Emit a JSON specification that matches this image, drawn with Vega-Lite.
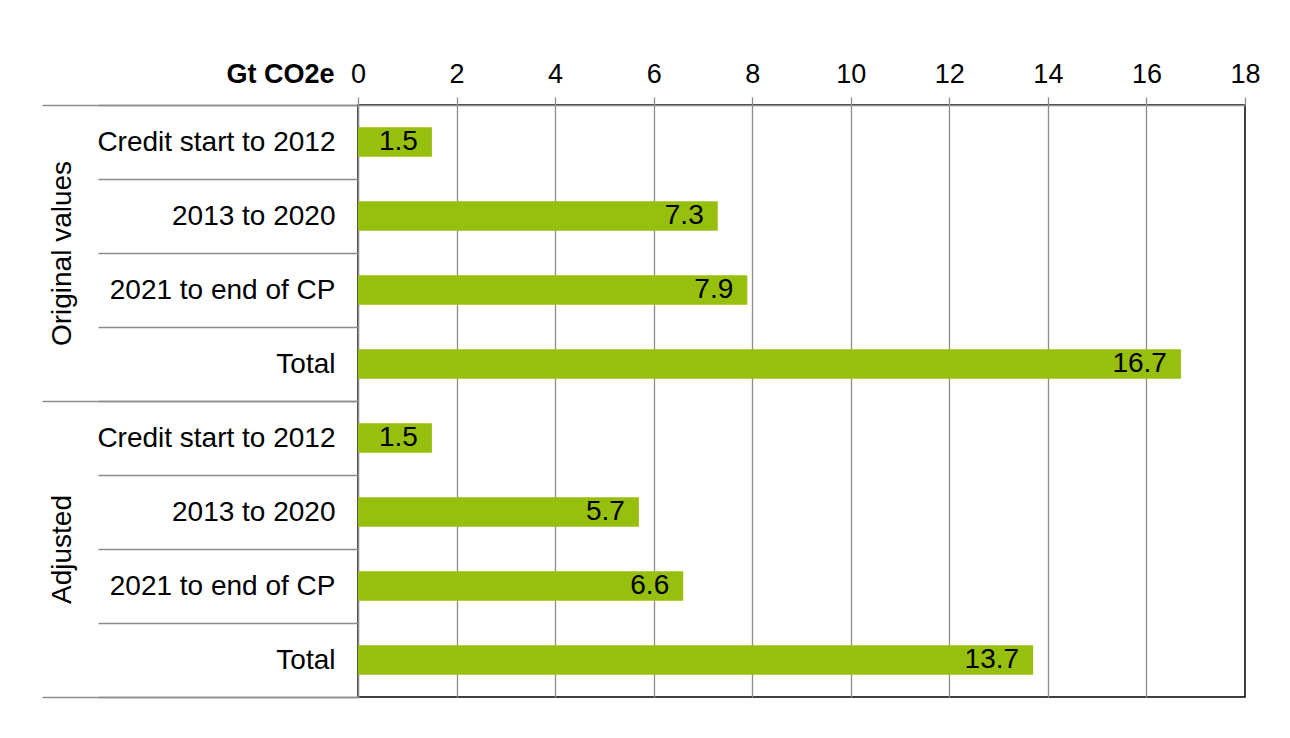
{
  "$schema": "https://vega.github.io/schema/vega-lite/v6.json",
  "width": 887,
  "height": 592,
  "autosize": {"type": "none"},
  "padding": {"left": 358, "top": 105, "right": 45, "bottom": 41},
  "background": "white",
  "config": {
    "font": "Liberation Sans",
    "view": {"stroke": "#000000", "strokeWidth": 1.5}
  },
  "data": {
    "values": [
      {"group": "Original values", "key": "Original values|Credit start to 2012", "value": 1.5},
      {"group": "Original values", "key": "Original values|2013 to 2020", "value": 7.3},
      {"group": "Original values", "key": "Original values|2021 to end of CP", "value": 7.9},
      {"group": "Original values", "key": "Original values|Total", "value": 16.7},
      {"group": "Adjusted", "key": "Adjusted|Credit start to 2012", "value": 1.5},
      {"group": "Adjusted", "key": "Adjusted|2013 to 2020", "value": 5.7},
      {"group": "Adjusted", "key": "Adjusted|2021 to end of CP", "value": 6.6},
      {"group": "Adjusted", "key": "Adjusted|Total", "value": 13.7}
    ]
  },
  "layer": [
    {
      "layer": [
        {
          "mark": {"type": "bar", "color": "#97BF0D", "height": {"band": 0.4}},
          "encoding": {
            "y": {
              "field": "key", "type": "nominal", "sort": null,
              "scale": {"paddingInner": 0, "paddingOuter": 0},
              "axis": {
                "title": null, "orient": "left",
                "labelExpr": "split(datum.value, '|')[1]",
                "labelFontSize": 28, "labelColor": "#000000",
                "labelAlign": "right", "labelBaseline": "middle",
                "labelPadding": -237, "labelLimit": 500,
                "tickBand": "extent", "tickSize": 260,
                "tickColor": "#8c8c8c", "tickWidth": 1.3,
                "domainColor": "#8c8c8c", "domainWidth": 1.3,
                "grid": false
              }
            },
            "x": {
              "field": "value", "type": "quantitative",
              "scale": {"domain": [0, 18], "nice": false},
              "axis": {
                "orient": "top",
                "values": [0, 2, 4, 6, 8, 10, 12, 14, 16, 18],
                "title": "Gt CO2e",
                "titleFontWeight": "bold", "titleFontSize": 27, "titleColor": "#000000",
                "titleAlign": "right", "titleBaseline": "alphabetic", "titleAngle": 0,
                "titleX": -24, "titleY": -23,
                "labelFontSize": 27, "labelColor": "#000000",
                "labelBaseline": "alphabetic", "labelPadding": 15,
                "labelFlush": false, "labelOverlap": false,
                "tickSize": 8, "tickColor": "#8c8c8c", "tickWidth": 1.3,
                "domainColor": "#8c8c8c", "domainWidth": 1.3,
                "grid": true, "gridColor": "#8c8c8c", "gridWidth": 1.3,
                "gridOpacity": {"condition": {"test": "datum.value == 18", "value": 0}, "value": 1}
              }
            }
          }
        },
        {
          "mark": {"type": "text", "align": "right", "baseline": "middle", "dx": -14, "fontSize": 28, "color": "#000000"},
          "encoding": {
            "y": {"field": "key", "type": "nominal", "sort": null},
            "x": {"field": "value", "type": "quantitative"},
            "text": {"field": "value", "type": "quantitative", "format": ".1f"}
          }
        }
      ]
    },
    {
      "mark": {"type": "point", "opacity": 0},
      "encoding": {
        "y": {
          "field": "group", "type": "nominal", "sort": null,
          "scale": {"paddingInner": 0, "paddingOuter": 0},
          "axis": {
            "title": null, "orient": "left", "domain": false,
            "tickBand": "extent", "tickSize": 316,
            "tickColor": "#8c8c8c", "tickWidth": 1.3,
            "labelAngle": 270, "labelAlign": "center", "labelBaseline": "middle",
            "labelPadding": -20, "labelFontSize": 28, "labelColor": "#000000",
            "labelLimit": 500, "grid": false
          }
        }
      }
    }
  ],
  "resolve": {"scale": {"y": "independent"}, "axis": {"y": "independent"}}
}
